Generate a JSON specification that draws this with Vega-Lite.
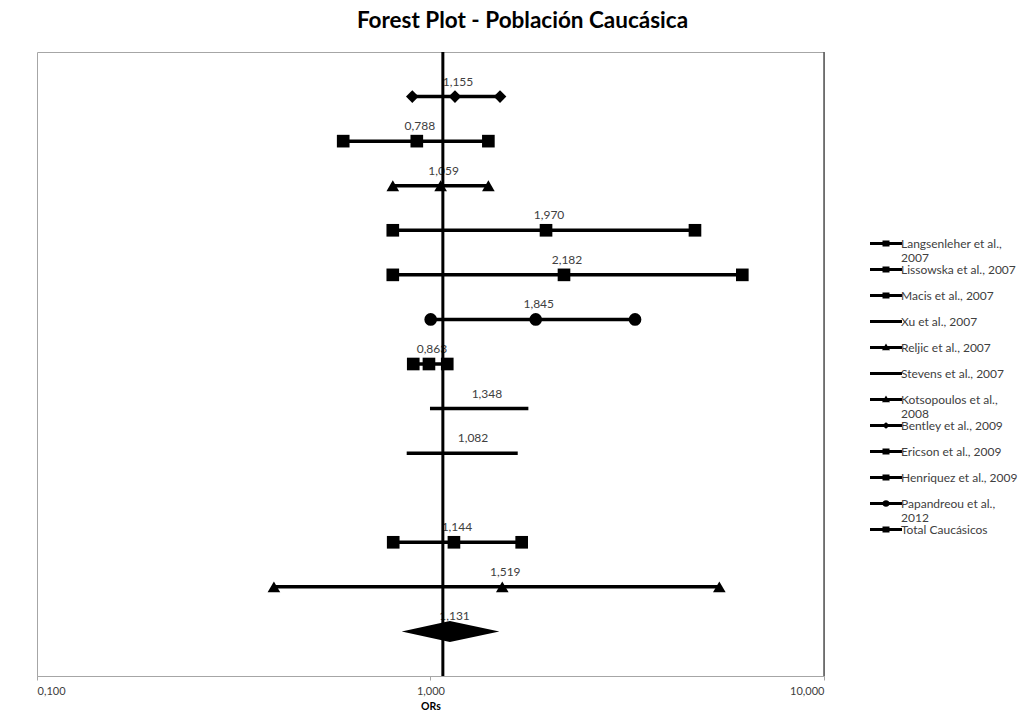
{
  "$schema": "https://vega.github.io/schema/vega-lite/v6.json",
  "width": 787,
  "height": 624,
  "autosize": "none",
  "padding": {"left": 37, "top": 52, "right": 210, "bottom": 46},
  "background": "white",
  "title": {
    "text": "Forest Plot - Población Caucásica",
    "font": "Lato",
    "fontSize": 22.5,
    "fontWeight": "bold",
    "color": "#000000",
    "anchor": "middle",
    "dx": 92,
    "offset": 18
  },
  "config": {
    "view": {"stroke": "#a6a6a6", "strokeWidth": 1},
    "font": "Lato"
  },
  "datasets": {
    "studies": [
      {"row": 1, "lo": 0.899, "or": 1.154, "hi": 1.502, "marker": "diamond", "label": "1,155"},
      {"row": 2, "lo": 0.600, "or": 0.923, "hi": 1.403, "marker": "square", "label": "0,788"},
      {"row": 3, "lo": 0.802, "or": 1.061, "hi": 1.403, "marker": "triangle", "label": "1,059"},
      {"row": 4, "lo": 0.802, "or": 1.966, "hi": 4.70, "marker": "square", "label": "1,970"},
      {"row": 5, "lo": 0.802, "or": 2.184, "hi": 6.20, "marker": "square", "label": "2,182"},
      {"row": 6, "lo": 1.001, "or": 1.851, "hi": 3.31, "marker": "circle", "label": "1,845"},
      {"row": 7, "lo": 0.904, "or": 0.991, "hi": 1.103, "marker": "square", "label": "0,863"},
      {"row": 8, "lo": 0.997, "or": 1.367, "hi": 1.773, "marker": "none", "label": "1,348"},
      {"row": 9, "lo": 0.870, "or": 1.26, "hi": 1.666, "marker": "none", "label": "1,082"},
      {"row": 11, "lo": 0.804, "or": 1.147, "hi": 1.705, "marker": "square", "label": "1,144"},
      {"row": 12, "lo": 0.400, "or": 1.522, "hi": 5.42, "marker": "triangle", "label": "1,519"},
      {"row": 13, "lo": 0.845, "or": 1.131, "hi": 1.496, "marker": "total", "label": "1,131"}
    ],
    "diamond": [
      {"x": 0.845, "top": 13, "bottom": 13},
      {"x": 1.12, "top": 12.765, "bottom": 13.235},
      {"x": 1.496, "top": 13, "bottom": 13}
    ],
    "legend": [
      {"study": "Langsenleher et al., 2007"},
      {"study": "Lissowska et al., 2007"},
      {"study": "Macis  et al., 2007"},
      {"study": "Xu et al., 2007"},
      {"study": "Reljic et al., 2007"},
      {"study": "Stevens et al., 2007"},
      {"study": "Kotsopoulos et al., 2008"},
      {"study": "Bentley et al., 2009"},
      {"study": "Ericson et al., 2009"},
      {"study": "Henriquez et al., 2009"},
      {"study": "Papandreou et al., 2012"},
      {"study": "Total Caucásicos"}
    ]
  },
  "encoding": {
    "y": {"type": "quantitative", "scale": {"domain": [0, 14], "reverse": true, "nice": false, "zero": false}, "axis": null}
  },
  "layer": [
    {
      "data": {"name": "studies"},
      "transform": [{"filter": "datum.marker != 'total'"}],
      "mark": {"type": "rule", "color": "#000000", "strokeWidth": 3.5},
      "encoding": {
        "x": {"field": "lo", "type": "quantitative",
          "scale": {"type": "log", "domain": [0.1, 10], "nice": false},
          "axis": {
            "values": [0.1, 1, 10],
            "labelExpr": "replace(format(datum.value, '.3f'), '.', ',')",
            "title": "ORs",
            "titleFont": "Lato", "titleFontSize": 10.5, "titleFontWeight": "bold", "titleColor": "#000000",
            "titlePadding": 5,
            "labelFont": "Lato", "labelFontSize": 11, "labelColor": "#404040",
            "labelPadding": 5,
            "domainColor": "#a6a6a6", "tickColor": "#a6a6a6", "tickSize": 4,
            "grid": false
          }
        },
        "x2": {"field": "hi"},
        "y": {"field": "row", "type": "quantitative"}
      }
    },
    {
      "data": {"name": "studies"},
      "transform": [
        {"filter": "datum.marker != 'total' && datum.marker != 'none'"},
        {"fold": ["lo", "or", "hi"], "as": ["which", "value"]}
      ],
      "mark": {"type": "point", "filled": true, "color": "#000000", "opacity": 1, "size": 160},
      "encoding": {
        "x": {"field": "value", "type": "quantitative"},
        "y": {"field": "row", "type": "quantitative"},
        "shape": {"field": "marker", "type": "nominal",
          "scale": {"domain": ["square", "triangle", "diamond", "circle"], "range": ["square", "triangle-up", "diamond", "circle"]},
          "legend": null}
      }
    },
    {
      "data": {"name": "studies"},
      "mark": {"type": "text", "font": "Lato", "fontSize": 12, "color": "#404040", "dx": 3, "dy": -15, "baseline": "middle"},
      "encoding": {
        "x": {"field": "or", "type": "quantitative"},
        "y": {"field": "row", "type": "quantitative"},
        "text": {"field": "label"}
      }
    },
    {
      "data": {"name": "diamond"},
      "mark": {"type": "area", "orient": "vertical", "color": "#000000", "opacity": 1},
      "encoding": {
        "x": {"field": "x", "type": "quantitative"},
        "y": {"field": "top", "type": "quantitative"},
        "y2": {"field": "bottom"}
      }
    },
    {
      "data": {"values": [{}]},
      "mark": {"type": "rule", "color": "#000000", "strokeWidth": 3},
      "encoding": {"x": {"datum": 1.075}}
    },
    {
      "data": {"values": [{}]},
      "mark": {"type": "rule", "color": "#595959", "strokeWidth": 1.5},
      "encoding": {"x": {"datum": 10}}
    },
    {
      "data": {"name": "legend"},
      "mark": {"type": "point", "filled": true, "color": "#000000", "opacity": 0},
      "encoding": {
        "shape": {
          "field": "study", "type": "nominal",
          "scale": {
            "domain": ["Langsenleher et al., 2007", "Lissowska et al., 2007", "Macis  et al., 2007", "Xu et al., 2007", "Reljic et al., 2007", "Stevens et al., 2007", "Kotsopoulos et al., 2008", "Bentley et al., 2009", "Ericson et al., 2009", "Henriquez et al., 2009", "Papandreou et al., 2012", "Total Caucásicos"],
            "range": [
              "M-3.2,-0.3H3.2V0.3H-3.2ZM-0.7,-0.6H0.7V0.6H-0.7Z",
              "M-3.2,-0.3H3.2V0.3H-3.2ZM-0.7,-0.6H0.7V0.6H-0.7Z",
              "M-3.2,-0.3H3.2V0.3H-3.2ZM-0.7,-0.6H0.7V0.6H-0.7Z",
              "M-3.2,-0.3H3.2V0.3H-3.2Z",
              "M-3.2,-0.3H3.2V0.3H-3.2ZM0,-0.8L0.8,0.55H-0.8Z",
              "M-3.2,-0.3H3.2V0.3H-3.2Z",
              "M-3.2,-0.3H3.2V0.3H-3.2ZM0,-0.8L0.8,0.55H-0.8Z",
              "M-3.2,-0.3H3.2V0.3H-3.2ZM-0.8,0L0,-0.65L0.8,0L0,0.65Z",
              "M-3.2,-0.3H3.2V0.3H-3.2ZM-0.7,-0.6H0.7V0.6H-0.7Z",
              "M-3.2,-0.3H3.2V0.3H-3.2ZM-0.7,-0.6H0.7V0.6H-0.7Z",
              "M-3.2,-0.3H3.2V0.3H-3.2ZM-0.75,0A0.75,0.65 0 1,1 0.75,0A0.75,0.65 0 1,1 -0.75,0Z",
              "M-3.2,-0.3H3.2V0.3H-3.2ZM-0.7,-0.6H0.7V0.6H-0.7Z"
            ]
          },
          "legend": {
            "title": null,
            "orient": "none",
            "legendX": 843,
            "legendY": 185.5,
            "padding": 0,
            "symbolSize": 100,
            "symbolStrokeWidth": 0,
            "symbolFillColor": "#000000",
            "symbolOpacity": 1,
            "labelFont": "Lato",
            "labelFontSize": 12,
            "labelColor": "#404040",
            "labelOffset": 9,
            "labelLimit": 200,
            "labelBaseline": "middle",
            "gridAlign": "all",
            "rowPadding": 0,
            "labelExpr": "datum.label == 'Langsenleher et al., 2007' ? ['Langsenleher et al.,', '2007'] : datum.label == 'Kotsopoulos et al., 2008' ? ['Kotsopoulos et al.,', '2008'] : datum.label == 'Papandreou et al., 2012' ? ['Papandreou et al.,', '2012'] : datum.label",
            "encode": {
              "symbols": {"opacity": {"value": 1}, "fill": {"value": "#000000"}},
              "labels": {"lineHeight": {"value": 12}}
            }
          }
        }
      }
    }
  ],
  "resolve": {"scale": {"shape": "independent"}}
}
